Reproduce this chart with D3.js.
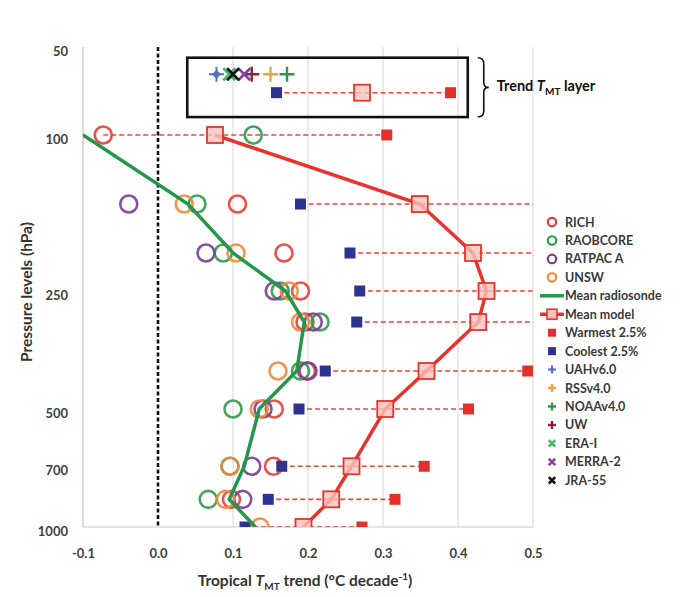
<!DOCTYPE html>
<html><head><meta charset="utf-8">
<script src="https://cdn.jsdelivr.net/npm/d3@7/dist/d3.min.js"></script>
<style>body{margin:0;background:#fff}svg{display:block}text{font-family:Lato,"Open Sans",sans-serif}</style>
</head><body><svg id="c" width="681" height="597"></svg>
<script>
// ---- data ----
const levels = [100,150,200,250,300,400,500,700,850,1000];
const rich      = [-0.073,0.106,0.168,0.190,0.196,0.198,0.155,0.154,0.098,null];
const raobcore  = [0.127,0.052,0.087,0.163,0.216,0.190,0.100,0.096,0.067,null];
const ratpac    = [null,-0.039,0.064,0.155,0.207,0.200,0.140,0.125,0.113,null];
const unsw      = [null,0.035,0.104,0.175,0.190,0.160,0.135,0.096,0.090,0.136];
const meanSonde = [-0.100,0.040,0.100,0.170,0.195,0.185,0.135,0.115,0.095,0.130];
const meanModel = [0.076,0.349,0.420,0.438,0.427,0.358,0.303,0.258,0.231,0.194];
const warmest   = [0.305,0.560,0.560,0.560,0.560,0.493,0.414,0.355,0.316,0.272];
const coolest   = [null,0.190,0.256,0.269,0.265,0.223,0.188,0.165,0.147,0.116];
// TMT layer (pseudo pressure rows inside box)
const layerRows = [70,78];
const layerNames = ["UAHv6.0","RSSv4.0","NOAAv4.0","UW","ERA-I","MERRA-2","JRA-55"];
const layerVals  = [0.078,0.150,0.172,0.125,0.095,0.115,0.100];
const layerModel = {coolest:0.158, mean:0.272, warmest:0.390};
const layerBox = {x0:0.039, x1:0.413, p0:63.5, p1:90};
const xTicks = [-0.1,0.0,0.1,0.2,0.3,0.4,0.5];
const yTickLabels = [50,100,250,500,700,1000];
const legendNames = ["RICH","RAOBCORE","RATPAC A","UNSW","Mean radiosonde","Mean model","Warmest 2.5%","Coolest 2.5%","UAHv6.0","RSSv4.0","NOAAv4.0","UW","ERA-I","MERRA-2","JRA-55"];

// ---- style ----
const C = {rich:"#e0413b", raob:"#2e9a4c", ratpac:"#7a3d98", unsw:"#f0893a",
  sonde:"#24964a", model:"#e8322b", modelFill:"#f7c3bb", warm:"#e3302a", cool:"#2c3490",
  uah:"#5a6cc4", rss:"#f3a040", noaa:"#2a9a48", uw:"#8c2142", era:"#3dbb6e", merra:"#8a3da4", jra:"#111"};
const layerColors = [C.uah,C.rss,C.noaa,C.uw,C.era,C.merra,C.jra];
const layerShapes = ["diamond","plus","plus","plus","x","x","x"];

const svg = d3.select("#c");
const L=83,R=533,T=47,B=527;
const x = d3.scaleLinear().domain([-0.1,0.5]).range([L,R]);
const y = d3.scaleLog().domain([100,1000]).range([135,527]);
const yTopP = y.invert(T);
const yc = d3.scaleLog().domain([yTopP,1000]).range([T,B]).clamp(true);

svg.append("defs").append("clipPath").attr("id","pc").append("rect")
  .attr("x",L).attr("y",T).attr("width",R-L).attr("height",B-T);

// grid
svg.append("g").selectAll("line").data(xTicks).join("line")
  .attr("x1",d=>x(d)).attr("x2",d=>x(d)).attr("y1",T).attr("y2",B)
  .attr("stroke",d=>d===0?"none":"#d6d6d6").attr("stroke-width",1);
svg.append("line").attr("x1",L).attr("x2",R).attr("y1",B).attr("y2",B).attr("stroke","#c8c8c8");
svg.append("line").attr("x1",x(0)).attr("x2",x(0)).attr("y1",T).attr("y2",B)
  .attr("stroke","#111").attr("stroke-width",2.6).attr("stroke-dasharray","4,2.5");

// axes labels
const xa = d3.axisBottom(x).tickValues(xTicks).tickFormat(d3.format(".1f")).tickSize(0).tickPadding(22);
const gx = svg.append("g").attr("transform",`translate(0,${B})`).call(xa);
gx.select(".domain").remove();
gx.selectAll("text").attr("font-size",13).attr("font-weight","bold").attr("fill","#404040")
  .attr("font-family","Lato,sans-serif").text(d=>d3.format(".1f")(d).replace("−","-"));
const ya = d3.axisLeft(yc).tickValues(yTickLabels).tickFormat(d3.format("d")).tickSize(0).tickPadding(15);
const gy = svg.append("g").attr("transform",`translate(${L},4)`).call(ya);
gy.select(".domain").remove();
gy.selectAll("text").attr("font-size",13).attr("font-weight","bold").attr("fill","#404040").attr("font-family","Lato,sans-serif");
svg.append("line").attr("x1",L).attr("x2",L).attr("y1",T).attr("y2",B).attr("stroke","#c8c8c8");

// titles
const xt = svg.append("text").attr("x",305).attr("y",586).attr("text-anchor","middle")
  .attr("font-size",15.5).attr("font-weight","bold").attr("fill","#333");
xt.append("tspan").text("Tropical ");
xt.append("tspan").attr("font-style","italic").text("T");
xt.append("tspan").attr("font-size",10).attr("dy",4).text("MT");
xt.append("tspan").attr("dy",-4).text(" trend (°C decade");
xt.append("tspan").attr("font-size",10).attr("dy",-6).text("-1");
xt.append("tspan").attr("dy",6).text(")");
svg.append("text").attr("transform","translate(32,292) rotate(-90)").attr("text-anchor","middle")
  .attr("font-size",15.5).attr("font-weight","bold").attr("fill","#333").text("Pressure levels (hPa)");

const plot = svg.append("g").attr("clip-path","url(#pc)");
const rows = levels.map((p,i)=>({p,i}));

// spread dashed lines
plot.append("g").selectAll("line").data(rows).join("line")
  .attr("x1",d=>x(coolest[d.i]!=null?coolest[d.i]:d3.min([rich[d.i],raobcore[d.i],ratpac[d.i],unsw[d.i]])))
  .attr("x2",d=>x(warmest[d.i])).attr("y1",d=>y(d.p)).attr("y2",d=>y(d.p))
  .attr("stroke","#e8453c").attr("stroke-width",1.6).attr("stroke-dasharray","5,3");

// radiosonde circles
const sets = [[rich,C.rich],[raobcore,C.raob],[ratpac,C.ratpac],[unsw,C.unsw]];
sets.forEach(([arr,col])=>{
  plot.append("g").selectAll("circle").data(rows.filter(d=>arr[d.i]!=null)).join("circle")
    .attr("cx",d=>x(arr[d.i])).attr("cy",d=>y(d.p)).attr("r",8.5)
    .attr("fill","none").attr("stroke",col).attr("stroke-width",2.6).attr("opacity",0.9);
});

// coolest / warmest squares
const sq=11;
plot.append("g").selectAll("rect").data(rows.filter(d=>coolest[d.i]!=null)).join("rect")
  .attr("x",d=>x(coolest[d.i])-sq/2).attr("y",d=>y(d.p)-sq/2).attr("width",sq).attr("height",sq).attr("fill",C.cool);
plot.append("g").selectAll("rect").data(rows).join("rect")
  .attr("x",d=>x(warmest[d.i])-sq/2).attr("y",d=>y(d.p)-sq/2).attr("width",sq).attr("height",sq).attr("fill",C.warm);

// mean lines
const lineS = d3.line().x(d=>x(meanSonde[d.i])).y(d=>y(d.p));
plot.append("path").datum(rows).attr("d",lineS).attr("fill","none").attr("stroke",C.sonde).attr("stroke-width",3.5);
const lineM = d3.line().x(d=>x(meanModel[d.i])).y(d=>y(d.p));
plot.append("path").datum(rows).attr("d",lineM).attr("fill","none").attr("stroke",C.model).attr("stroke-width",3.5);
const ms=16;
plot.append("g").selectAll("rect").data(rows).join("rect")
  .attr("x",d=>x(meanModel[d.i])-ms/2).attr("y",d=>y(d.p)-ms/2).attr("width",ms).attr("height",ms)
  .attr("fill",C.modelFill).attr("fill-opacity",0.8).attr("stroke",C.model).attr("stroke-width",1.8);

// TMT layer
const ly0=y(layerRows[0]), ly1=y(layerRows[1]);
svg.append("rect").attr("x",x(layerBox.x0)).attr("y",y(layerBox.p0)).attr("width",x(layerBox.x1)-x(layerBox.x0))
  .attr("height",y(layerBox.p1)-y(layerBox.p0)).attr("fill","none").attr("stroke","#111").attr("stroke-width",2.6);
svg.append("line").attr("x1",x(layerModel.coolest)).attr("x2",x(layerModel.warmest)).attr("y1",ly1).attr("y2",ly1)
  .attr("stroke","#e8453c").attr("stroke-width",1.6).attr("stroke-dasharray","5,3");
svg.append("rect").attr("x",x(layerModel.coolest)-sq/2).attr("y",ly1-sq/2).attr("width",sq).attr("height",sq).attr("fill",C.cool);
svg.append("rect").attr("x",x(layerModel.warmest)-sq/2).attr("y",ly1-sq/2).attr("width",sq).attr("height",sq).attr("fill",C.warm);
svg.append("rect").attr("x",x(layerModel.mean)-ms/2).attr("y",ly1-ms/2).attr("width",ms).attr("height",ms)
  .attr("fill",C.modelFill).attr("fill-opacity",0.8).attr("stroke",C.model).attr("stroke-width",1.8);

function marker(g,shape,cx,cy,col,s){
  if(shape==="diamond"){
    g.append("path").attr("d",`M${cx-s},${cy}L${cx+s},${cy}M${cx},${cy-s}L${cx},${cy+s}`).attr("stroke",col).attr("stroke-width",2);
    g.append("path").attr("d",`M${cx},${cy-s*0.6}L${cx+s*0.6},${cy}L${cx},${cy+s*0.6}L${cx-s*0.6},${cy}Z`).attr("fill",col);
  } else if(shape==="plus"){
    g.append("path").attr("d",`M${cx-s},${cy}L${cx+s},${cy}M${cx},${cy-s}L${cx},${cy+s}`).attr("stroke",col).attr("stroke-width",2.4);
  } else {
    g.append("path").attr("d",`M${cx-s*0.8},${cy-s*0.8}L${cx+s*0.8},${cy+s*0.8}M${cx+s*0.8},${cy-s*0.8}L${cx-s*0.8},${cy+s*0.8}`).attr("stroke",col).attr("stroke-width",2.6);
  }
}
const lg = svg.append("g");
layerNames.forEach((n,i)=>marker(lg,layerShapes[i],x(layerVals[i]),ly0,layerColors[i],7.5));

// brace + label
const bx = x(layerBox.x1)+10, by0=y(layerBox.p0), by1=y(layerBox.p1), bm=(by0+by1)/2;
svg.append("path").attr("d",`M${bx},${by0} Q${bx+6},${by0} ${bx+6},${by0+6} L${bx+6},${bm-5} Q${bx+6},${bm} ${bx+11},${bm} Q${bx+6},${bm} ${bx+6},${bm+5} L${bx+6},${by1-6} Q${bx+6},${by1} ${bx},${by1}`)
  .attr("fill","none").attr("stroke","#111").attr("stroke-width",1.6);
const tl = svg.append("text").attr("x",bx+19).attr("y",bm+4).attr("font-size",14.5).attr("font-weight","bold").attr("fill","#111");
tl.append("tspan").text("Trend ");
tl.append("tspan").attr("font-style","italic").text("T");
tl.append("tspan").attr("font-size",10).attr("dy",4).text("MT");
tl.append("tspan").attr("dy",-4).text(" layer");

// legend
const leg = svg.append("g");
const lx=552, ly=222, lstep=18.45;
legendNames.forEach((n,i)=>{
  const cy=ly+i*lstep;
  if(i<4){ leg.append("circle").attr("cx",lx).attr("cy",cy).attr("r",4.2).attr("fill","none").attr("stroke",sets[i][1]).attr("stroke-width",2.2); }
  else if(i===4){ leg.append("line").attr("x1",lx-12).attr("x2",lx+12).attr("y1",cy).attr("y2",cy).attr("stroke",C.sonde).attr("stroke-width",3.5); }
  else if(i===5){ leg.append("line").attr("x1",lx-12).attr("x2",lx+12).attr("y1",cy).attr("y2",cy).attr("stroke",C.model).attr("stroke-width",3.5);
    leg.append("rect").attr("x",lx-5).attr("y",cy-5).attr("width",10).attr("height",10).attr("fill",C.modelFill).attr("stroke",C.model).attr("stroke-width",1.6); }
  else if(i===6||i===7){ leg.append("rect").attr("x",lx-4).attr("y",cy-4).attr("width",8).attr("height",8).attr("fill",i===6?C.warm:C.cool); }
  else { marker(leg,layerShapes[i-8],lx,cy,layerColors[i-8],4); }
  leg.append("text").attr("x",lx+13).attr("y",cy+4.5).attr("font-size",12.5).attr("font-weight","bold").attr("fill","#3a3a3a").text(n);
});
</script></body></html>
